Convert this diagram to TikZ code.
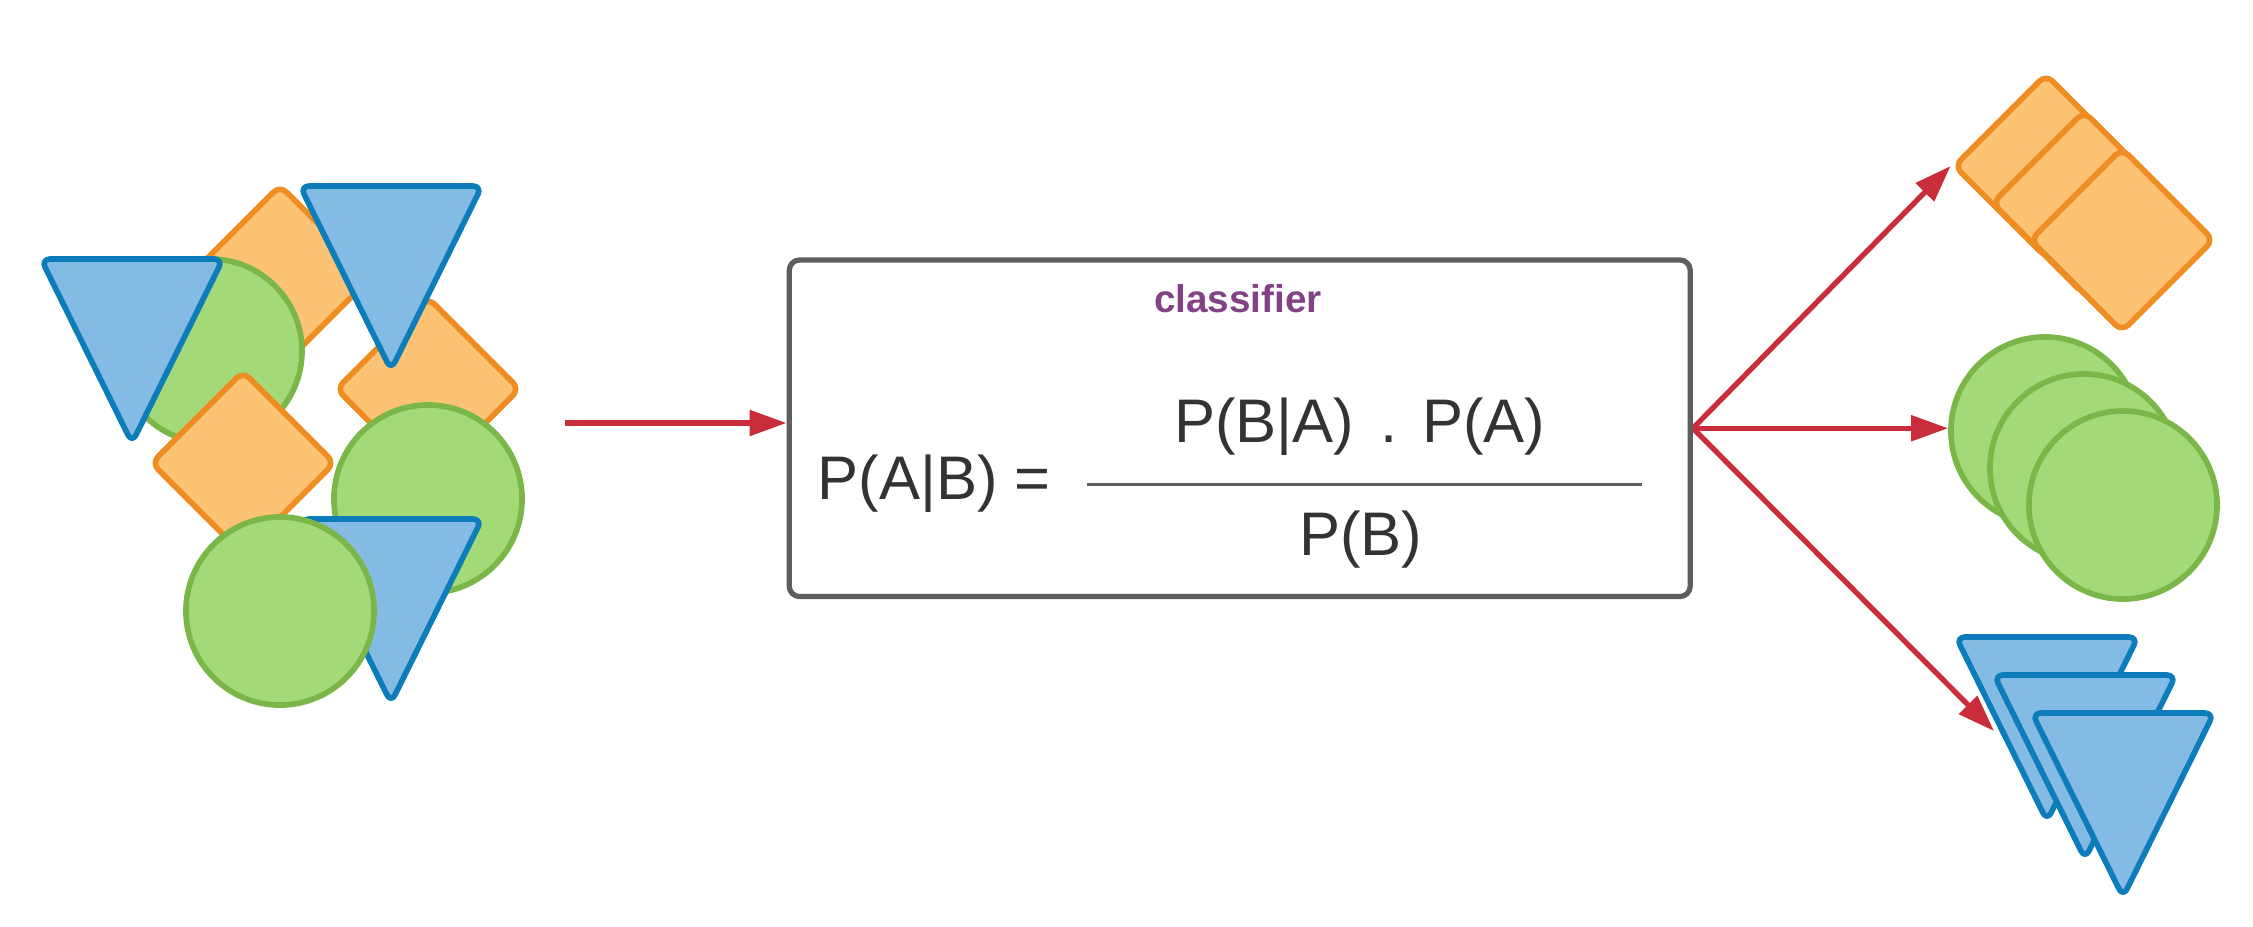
\documentclass[tikz,border=0pt]{standalone}
\usepackage{fontspec}
\setmainfont{Liberation Sans}
\usetikzlibrary{arrows.meta,shapes.geometric}
\definecolor{ofill}{HTML}{FCC374}
\definecolor{ostroke}{HTML}{EF8D22}
\definecolor{gfill}{HTML}{A3D977}
\definecolor{gstroke}{HTML}{7AB648}
\definecolor{bfill}{HTML}{83BBE5}
\definecolor{bstroke}{HTML}{0C7CBA}
\definecolor{arrred}{HTML}{C92D39}
\definecolor{boxgray}{HTML}{5E5E5E}
\definecolor{txtgray}{HTML}{333333}
\definecolor{ttlpurple}{HTML}{834187}
\pgfdeclarelayer{bg}
\pgfsetlayers{bg,main}
\begin{document}
\begin{tikzpicture}[x=0.01cm,y=-0.01cm,
  shp/.style={line width=1.6pt, rounded corners=2.6pt, line join=round},
  odia/.style={shp, diamond, aspect=1, minimum width=1.85cm, minimum height=1.85cm, inner sep=0pt, draw=ostroke, fill=ofill},
  gcirc/.style={circle, minimum size=1.88cm, inner sep=0pt, draw=gstroke, fill=gfill, line width=1.6pt},
  btri/.pic={\path[shp, draw=bstroke, fill=bfill] (-91,0) -- (91,0) -- (0,184) -- cycle;},
  arr/.style={draw=arrred, line width=1.5pt, -{Triangle[length=10.5pt,width=7.1pt]}},
  clfbox/.style={draw=boxgray, line width=1.5pt, rounded corners=3pt, minimum width=9.005cm, minimum height=3.365cm, inner sep=0pt, fill=white},
  ttl/.style={text=ttlpurple, font=\bfseries\fontsize{11pt}{13pt}\selectfont, inner sep=0pt},
  frm/.style={text=txtgray, font=\fontsize{17.5pt}{21pt}\selectfont, inner sep=0pt},
  fracline/.style={draw=boxgray, line width=0.8pt}
]
\useasboundingbox (0,0) rectangle (2253,927);

% left cluster
\node[odia] (dA) at (280,277) {};
\node[gcirc, minimum size=1.84cm] (g1) at (210,351) {};
\pic at (132,259) {btri};
\node[odia] (dC) at (243,463) {};
\node[odia] (dD) at (428,389) {};
\pic at (391,186) {btri};
\node[gcirc] (g2) at (428,499) {};
\pic at (391,519) {btri};
\node[gcirc] (g3) at (280,611) {};

% classifier box
\node[clfbox] (clf) at (1239.75,428.25) {};
\node[ttl, anchor=base] (ttl) at (1238,312) {classifier};
\node[frm, anchor=base west] (lhs) at (817,499) {P(A|B) =};
\node[frm, anchor=base west] (num) at (1173.5,442.7) {P(B|A)\hspace{7.5pt}.\hspace{7pt}P(A)};
\node[frm, anchor=base west] (den) at (1298.5,555.7) {P(B)};
\coordinate (fl) at (1087,484.5);
\coordinate (fr) at (1642,484.5);
\draw[fracline] (fl) -- (fr);

% right stacks
\node[odia] (dR1) at (2046,166) {};
\node[odia] (dR2) at (2084,203) {};
\node[odia] (dR3) at (2122,240) {};
\node[gcirc] (cR1) at (2045,431) {};
\node[gcirc] (cR2) at (2084,468) {};
\node[gcirc] (cR3) at (2123,505) {};
\pic at (2047,637) {btri};
\pic at (2085,675) {btri};
\pic at (2123,713) {btri};

% connectors
\coordinate (inS) at (565,423);
\coordinate (tipT) at (1994,731);
\begin{pgfonlayer}{bg}
\draw[arr] (inS) -- (inS -| clf.west);
\draw[arr] (clf.east) -- (dR1.west);
\draw[arr] (clf.east) -- (clf.east -| cR1.west);
\draw[arr] (clf.east) -- (tipT);
\end{pgfonlayer}
\end{tikzpicture}
\end{document}
